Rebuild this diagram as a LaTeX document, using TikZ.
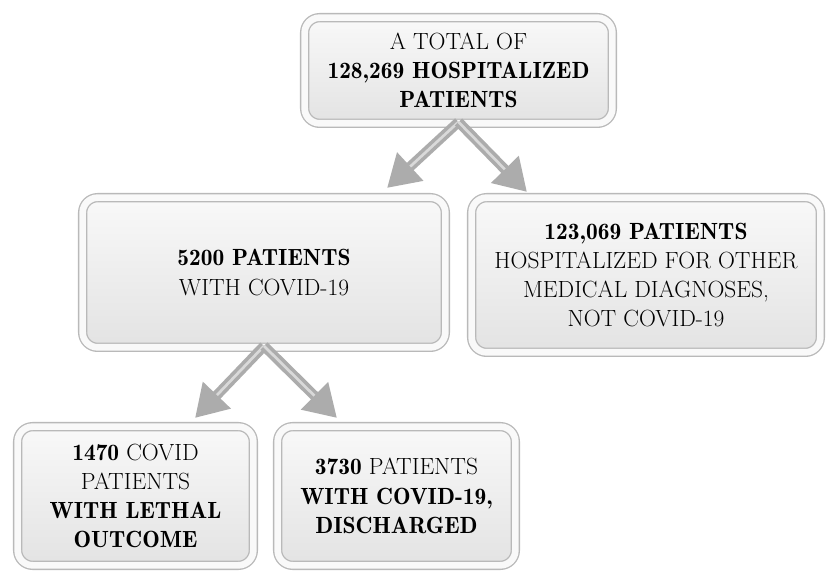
\documentclass[tikz,border=0pt]{standalone}
\usetikzlibrary{arrows.meta, shadows}
\newcommand{\demi}[1]{{\fontseries{b}\selectfont #1}}
\tikzset{
  box/.style={rectangle, rounded corners=0.45cm, draw=gray!55, line width=0.4mm, double=gray!5, double distance=0.2cm, top color=gray!5, bottom color=gray!22, align=center, font=\fontsize{20}{25}\selectfont, drop shadow={opacity=0.2, shadow xshift=0.06cm, shadow yshift=-0.08cm}},
  arrow/.style={-{Triangle[width=1.1cm, length=0.95cm]}, line width=0.3cm, draw=gray!65, postaction={draw=gray!30, line width=0.08cm, -, shorten >=0.95cm}},
}

\begin{document}
\begin{tikzpicture}[x=0.03cm, y=-0.03cm]
    \useasboundingbox (0,0) rectangle (827,573);
    % boxes
    \node[box, minimum width=9.23cm, minimum height=3.17cm] (total) at (458.5,70.5) {A TOTAL OF\\ \demi{128,269 HOSPITALIZED}\\ \demi{PATIENTS}};
    \node[box, minimum width=10.88cm, minimum height=4.49cm] (covid) at (264,272.5) {\demi{5200 PATIENTS}\\ WITH COVID-19};
    \node[box, minimum width=10.46cm, minimum height=4.64cm] (other) at (646,275) {\demi{123,069 PATIENTS}\\ HOSPITALIZED FOR OTHER\\ MEDICAL DIAGNOSES,\\ NOT COVID-19};
    \node[box, minimum width=7.07cm, minimum height=4.16cm] (lethal) at (135.5,496) {\demi{1470} COVID\\ PATIENTS\\ \demi{WITH LETHAL}\\ \demi{OUTCOME}};
    \node[box, minimum width=7.13cm, minimum height=4.16cm] (disch) at (396.5,496) {\demi{3730} PATIENTS\\ \demi{WITH COVID-19,}\\ \demi{DISCHARGED}};
    % arrow tips
    \coordinate (tipcovid) at (387,188);
    \coordinate (tipother) at (527,192);
    \coordinate (tiplethal) at (195,418);
    \coordinate (tipdisch) at (337,418);
    % arrows
    \draw[arrow] ([yshift=0.06cm]total.south) -- (tipcovid);
    \draw[arrow] ([yshift=0.06cm]total.south) -- (tipother);
    \draw[arrow] ([yshift=0.06cm]covid.south) -- (tiplethal);
    \draw[arrow] ([yshift=0.06cm]covid.south) -- (tipdisch);
\end{tikzpicture}
\end{document}
